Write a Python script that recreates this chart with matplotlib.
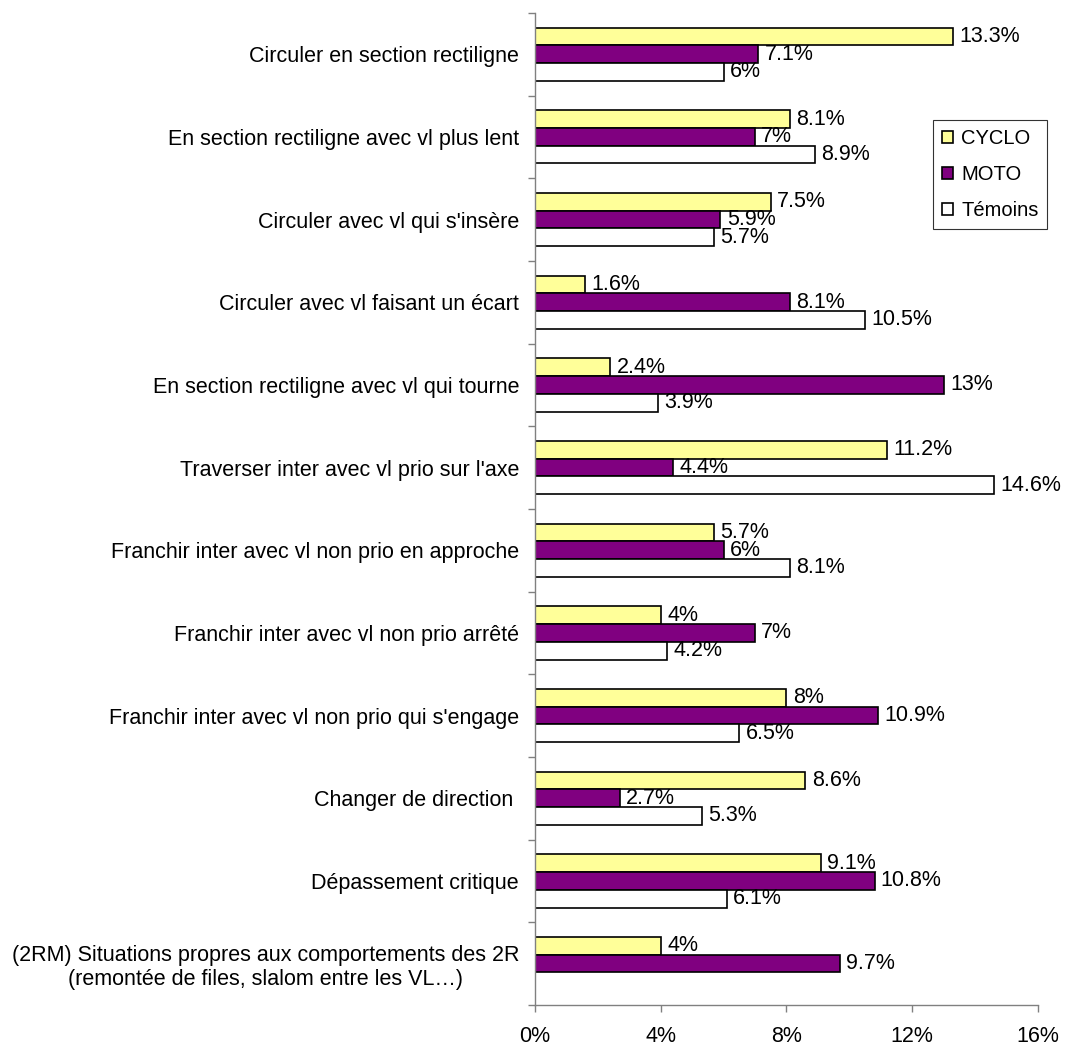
import matplotlib
matplotlib.use("Agg")
import matplotlib.pyplot as plt
import numpy as np

categories = [
    "Circuler en section rectiligne",
    "En section rectiligne avec vl plus lent",
    "Circuler avec vl qui s'insère",
    "Circuler avec vl faisant un écart",
    "En section rectiligne avec vl qui tourne",
    "Traverser inter avec vl prio sur l'axe",
    "Franchir inter avec vl non prio en approche",
    "Franchir inter avec vl non prio arrêté",
    "Franchir inter avec vl non prio qui s'engage",
    "Changer de direction ",
    "Dépassement critique",
    "(2RM) Situations propres aux comportements des 2R\n(remontée de files, slalom entre les VL…)",
]
cyclo = [13.3, 8.1, 7.5, 1.6, 2.4, 11.2, 5.7, 4, 8, 8.6, 9.1, 4]
moto = [7.1, 7, 5.9, 8.1, 13, 4.4, 6, 7, 10.9, 2.7, 10.8, 9.7]
temoins = [6, 8.9, 5.7, 10.5, 3.9, 14.6, 8.1, 4.2, 6.5, 5.3, 6.1, None]
series_names = ["CYCLO", "MOTO", "Témoins"]
colors = ["#FFFF99", "#800080", "#FFFFFF"]
xticks = [0, 4, 8, 12, 16]

plt.rcParams['font.family'] = ['Liberation Sans', 'DejaVu Sans']
FS = 15.5
plt.rcParams['font.size'] = FS

fig = plt.figure(figsize=(10.67, 10.45), dpi=100)
ax = fig.add_axes([0.5014, 0.0383, 0.4714, 0.9493])

n = len(categories)
y = np.arange(n)
h = 0.214
offsets = [-h, 0, h]
handles = []
for vals, off, col, name in zip([cyclo, moto, temoins], offsets, colors, series_names):
    idx = [i for i, v in enumerate(vals) if v is not None]
    vv = [vals[i] for i in idx]
    bars = ax.barh(y[idx] + off, vv, height=h, color=col, edgecolor='black',
                   linewidth=1.2, label=name)
    handles.append(bars)
    for i, v in zip(idx, vv):
        ax.text(v + 0.2, y[i] + off, f"{v:g}%", va='center', ha='left', fontsize=FS)

ax.set_ylim(n - 0.5, -0.5)
ax.set_xlim(0, 16)
ax.set_xticks(xticks)
ax.set_xticklabels([f"{t}%" for t in xticks])
ax.set_yticks(y)
ax.set_yticklabels(categories, multialignment='center')
ax.set_yticks(np.arange(n + 1) - 0.5, minor=True)
ax.tick_params(axis='y', which='major', length=0, pad=11.5)
ax.tick_params(axis='y', which='minor', length=5, color='#808080', width=1)
ax.tick_params(axis='x', length=5, color='#808080', width=1, pad=10)
for s in ['top', 'right']:
    ax.spines[s].set_visible(False)
for s in ['left', 'bottom']:
    ax.spines[s].set_color('#808080')
    ax.spines[s].set_linewidth(1)

leg = ax.legend(handles=handles, loc='upper left', bbox_to_anchor=(0.791, 0.892),
                borderaxespad=0, frameon=True, fancybox=False, edgecolor='black',
                handlelength=0.55, handleheight=0.55, handletextpad=0.4,
                labelspacing=0.85, borderpad=0.45, fontsize=14.5)
leg.get_frame().set_linewidth(0.8)

fig.savefig("out.png", dpi=100)
